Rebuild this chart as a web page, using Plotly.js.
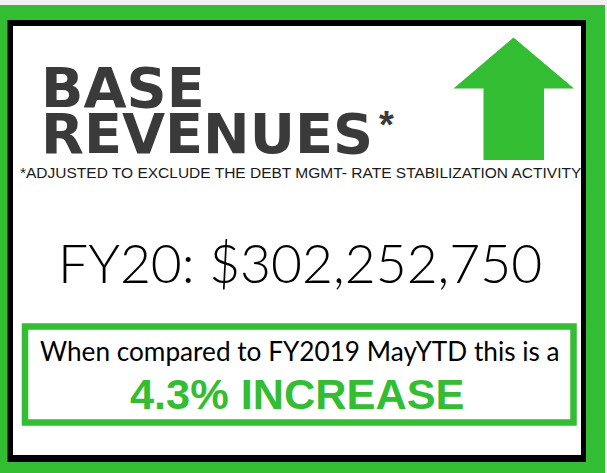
<!DOCTYPE html>
<html>
<head>
<meta charset="utf-8">
<script src="https://cdn.plot.ly/plotly-3.0.1.min.js"></script>
<style>html,body{margin:0;padding:0;background:#f0f0f0;}#chart{width:607px;height:473px;}</style>
</head>
<body>
<div id="chart"></div>
<script>
// Content of the infographic
const titleLines = ["BASE", "REVENUES"];
const footnoteMark = "*";
const footnote = "*ADJUSTED TO EXCLUDE THE DEBT MGMT- RATE STABILIZATION ACTIVITY";
const fiscalYear = "FY20";
const baseRevenue = 302252750;
const comparisonText = "When compared to FY2019 MayYTD this is a";
const changePct = 4.3;
const changeWord = "INCREASE";

const GREEN = "#32bd32";
const DARK = "#3a3a3a";

function fmtMoney(v) {
  return "$" + v.toString().replace(/\B(?=(\d{3})+(?!\d))/g, ",");
}

const shapes = [
  // outer green frame
  {type: "rect", x0: 0, x1: 605, y0: 5, y1: 473, fillcolor: GREEN, line: {width: 0}, layer: "below"},
  // black frame
  {type: "rect", x0: 7.5, x1: 586, y0: 20, y1: 462, fillcolor: "#000000", line: {width: 0}, layer: "below"},
  // white panel
  {type: "rect", x0: 13, x1: 581, y0: 26, y1: 455, fillcolor: "#ffffff", line: {width: 0}, layer: "below"},
  // green up arrow
  {type: "path", path: "M 513.5 37.5 L 574 88.5 L 544 88.5 L 544 160 L 483.5 160 L 483.5 88.5 L 453.5 88.5 Z",
   fillcolor: GREEN, line: {width: 0}, layer: "below"},
  // inner green box
  {type: "rect", x0: 25, x1: 573.5, y0: 326.5, y1: 422.5, fillcolor: "rgba(0,0,0,0)", line: {color: GREEN, width: 6.5}, layer: "below"}
];

const annotations = [
  {text: titleLines[0], x: 40, y: 87, xanchor: "left", yanchor: "middle",
   font: {family: "DejaVu Sans", size: 55.7, color: DARK, weight: 700}},
  {text: titleLines[1], x: 40, y: 133, xanchor: "left", yanchor: "middle",
   font: {family: "DejaVu Sans", size: 55.7, color: DARK, weight: 700}},
  {text: footnoteMark, x: 378, y: 125, xanchor: "left", yanchor: "middle",
   font: {family: "Liberation Sans", size: 38, color: DARK, weight: 700}},
  {text: footnote, x: 300, y: 172, xanchor: "center", yanchor: "middle",
   font: {family: "Liberation Sans", size: 15.5, color: "#1a1a1a"}},
  {text: fiscalYear + ": " + fmtMoney(baseRevenue), x: 299.5, y: 261.5, xanchor: "center", yanchor: "middle",
   font: {family: "Lato", size: 53.4, color: "#000000", weight: 300}},
  {text: comparisonText, x: 300, y: 350.5, xanchor: "center", yanchor: "middle",
   font: {family: "Lato", size: 26.2, color: "#000000", weight: 400}},
  {text: changePct.toFixed(1) + "% " + changeWord, x: 296.5, y: 394, xanchor: "center", yanchor: "middle",
   font: {family: "Liberation Sans", size: 43.3, color: GREEN, weight: 700}}
].map(a => Object.assign({xref: "x", yref: "y", showarrow: false, borderpad: 0}, a));

const layout = {
  width: 607, height: 473,
  margin: {l: 0, r: 0, t: 0, b: 0, pad: 0},
  paper_bgcolor: "#f0f0f0",
  plot_bgcolor: "rgba(0,0,0,0)",
  xaxis: {range: [0, 607], visible: false, fixedrange: true},
  yaxis: {range: [473, 0], visible: false, fixedrange: true},
  shapes: shapes,
  annotations: annotations,
  showlegend: false
};

Plotly.newPlot("chart", [], layout, {staticPlot: true, displayModeBar: false});
</script>
</body>
</html>
